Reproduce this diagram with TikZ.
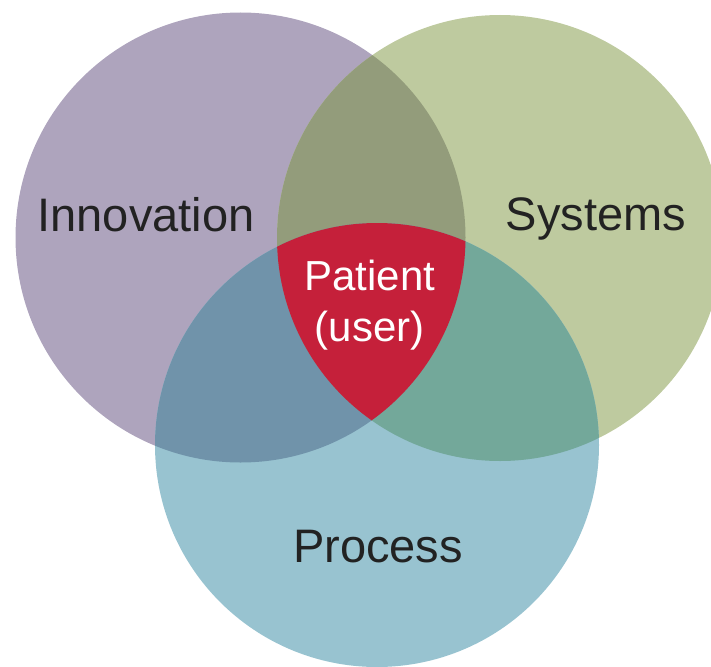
\documentclass[tikz,border=0pt]{standalone}
\usepackage{fontspec}
\setmainfont{Liberation Sans}
\definecolor{cPur}{HTML}{AEA4BD}
\definecolor{cGrn}{HTML}{BECA9F}
\definecolor{cBlu}{HTML}{98C3D0}
\definecolor{cPG}{HTML}{939C7B}
\definecolor{cPB}{HTML}{7093AA}
\definecolor{cGB}{HTML}{73A89A}
\definecolor{cRed}{HTML}{C5203A}
\definecolor{cTxt}{HTML}{222222}
\tikzset{
  biglabel/.style={anchor=base, text=cTxt, font=\fontsize{47}{56}\selectfont, inner sep=0pt},
  redlabel/.style={anchor=base, text=white, font=\fontsize{42}{50}\selectfont, inner sep=0pt}
}
\begin{document}
\begin{tikzpicture}[x=1pt,y=-1pt]
\useasboundingbox (0,0) rectangle (711,666);
\clip (0,0) rectangle (711,666);
\def\PurC{(240.5,237.5)}
\def\GrnC{(500,238)}
\def\BluC{(377,445)}
% base circles
\fill[cPur] \PurC circle (225);
\fill[cGrn] \GrnC circle (223);
\fill[cBlu] \BluC circle (222);
% pairwise overlaps
\begin{scope}
  \clip \PurC circle (225);
  \fill[cPG] \GrnC circle (223);
\end{scope}
\begin{scope}
  \clip \PurC circle (225);
  \fill[cPB] \BluC circle (222);
\end{scope}
\begin{scope}
  \clip \GrnC circle (223);
  \fill[cGB] \BluC circle (222);
\end{scope}
% triple overlap
\begin{scope}
  \clip \PurC circle (225);
  \clip \GrnC circle (223);
  \fill[cRed] \BluC circle (222);
\end{scope}
% labels
\node[biglabel] (innov) at (146,231) {Innovation};
\node[biglabel] (syst) at (596,230) {Systems};
\node[biglabel] (proc) at (378,562) {Process};
\node[redlabel] (pat) at (370,290) {Patient};
\node[redlabel] (usr) at (369.5,341) {(user)};
\end{tikzpicture}
\end{document}
